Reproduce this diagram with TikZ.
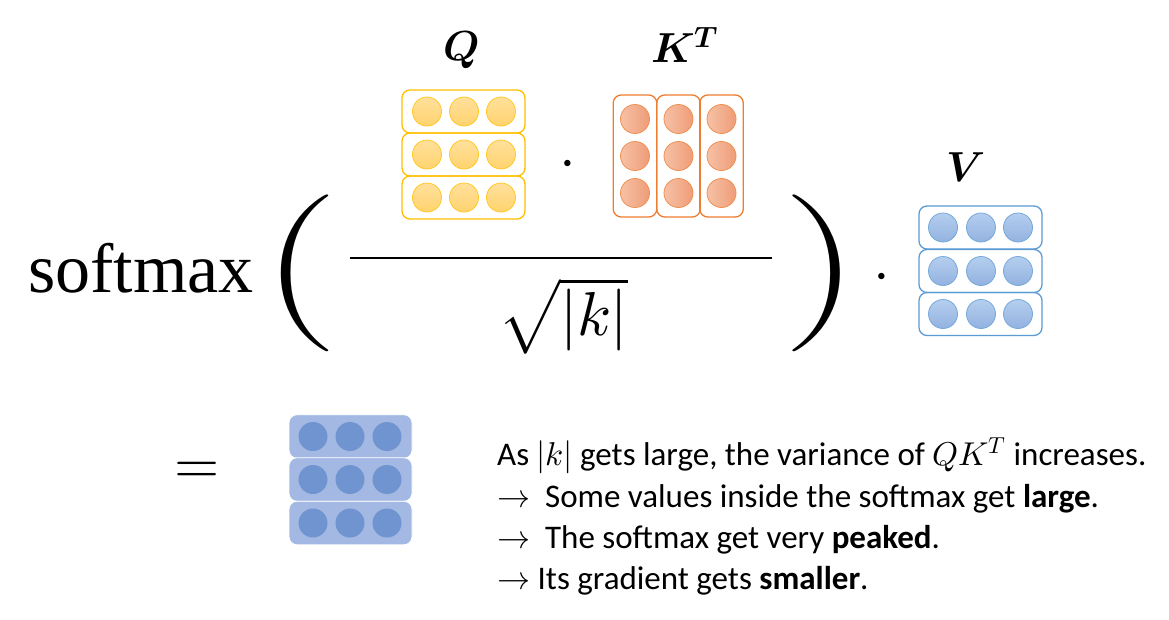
\documentclass[tikz,border=0pt]{standalone}
\usepackage{amsmath}
\usepackage{fontspec}
\usepackage{unicode-math}
\setmathfont{Latin Modern Math}
\newfontfamily\calib{Carlito}
\newfontfamily\smaxfont{Liberation Serif}
\usetikzlibrary{shadings}
\definecolor{qline}{HTML}{FFC000}
\definecolor{qtop}{HTML}{FFE09C}
\definecolor{qbot}{HTML}{FFD36E}
\definecolor{kline}{HTML}{ED7D31}
\definecolor{kleft}{HTML}{F6C1A6}
\definecolor{kright}{HTML}{EF9C78}
\definecolor{vline}{HTML}{5B9BD5}
\definecolor{vtop}{HTML}{B5CEEE}
\definecolor{vbot}{HTML}{92B2E0}
\definecolor{ofill}{HTML}{A3B9E3}
\definecolor{oball}{HTML}{7094CF}

\begin{document}
\begin{tikzpicture}[x=1pt,y=-1pt,every node/.style={inner sep=0pt},
    qrow/.style={draw=qline,line width=1.3pt,rounded corners=8pt,minimum width=123pt,minimum height=43pt},
    kcol/.style={draw=kline,line width=1.3pt,rounded corners=8pt,minimum width=43.5pt,minimum height=122pt},
    vrow/.style={draw=vline,line width=1.3pt,rounded corners=8pt,minimum width=123pt,minimum height=43pt},
    orow/.style={fill=ofill,draw=white,line width=0.8pt,rounded corners=8pt,minimum width=123pt,minimum height=43.5pt},
    qball/.style={circle,minimum size=29pt,draw=qline!85,line width=0.8pt,top color=qtop,bottom color=qbot},
    kball/.style={circle,minimum size=29pt,draw=kline!85,line width=0.8pt,left color=kleft,right color=kright},
    vball/.style={circle,minimum size=29pt,draw=vline!85,line width=0.8pt,top color=vtop,bottom color=vbot},
    oballs/.style={circle,minimum size=29pt,fill=oball},
    label/.style={font=\fontsize{42}{42}\selectfont},
    paren/.style={font=\fontsize{157}{157}\selectfont,xscale=1.4},
    expl/.style={anchor=base west,font=\calib\fontsize{33}{33}\selectfont}]
    \useasboundingbox (0,0) rectangle (1169,619);
    \fill[white] (0,0) rectangle (1169,619);

    \node[anchor=base west,font=\smaxfont\fontsize{70}{70}\selectfont] (smax) at (28,292) {softmax};
    \node[paren] (lpar) at (300,273) {(};
    \node[paren] (rpar) at (821,273) {)};

    \node[label] (qlab) at (462,50) {$\symbfit{Q}$};
    \node[label] (klab) at (685,45) {$\symbfit{K}^{\symbfit{T}}$};
    \node[label] (vlab) at (966,167) {$\symbfit{V}$};

    \foreach \r/\y in {1/111.5,2/154.5,3/197.5}{
        \node[qrow] (q\r) at (463.5,\y) {};
        \foreach \c/\x in {1/427,2/464,3/501}
            \node[qball] (q\r\c) at (\x,\y) {};
    }
    \foreach \c/\x in {1/635,2/678.5,3/721.5}{
        \node[kcol] (k\c) at (\x,156) {};
        \foreach \r/\y in {1/119,2/156,3/193}
            \node[kball] (k\r\c) at (\x,\y) {};
    }
    \foreach \r/\y in {1/227.5,2/271,3/314}{
        \node[vrow] (v\r) at (980.5,\y) {};
        \foreach \c/\x in {1/943,2/981,3/1018}
            \node[vball] (v\r\c) at (\x,\y) {};
    }
    \foreach \r/\y in {1/436.5,2/479.5,3/523}{
        \node[orow] (o\r) at (350.5,\y) {};
        \foreach \c/\x in {1/313,2/350,3/387}
            \node[oballs] (o\r\c) at (\x,\y) {};
    }

    \node[anchor=base,font=\fontsize{60}{60}\selectfont] (dota) at (568,178) {$\cdot$};
    \node[anchor=base,font=\fontsize{60}{60}\selectfont] (dotb) at (882,291) {$\cdot$};

    \coordinate (fl) at (350,258);
    \coordinate (fr) at (772,258);
    \draw[line width=2pt] (fl) -- (fr);
    \node[font=\fontsize{62}{62}\selectfont] (den) at (563,316) {$\sqrt{|k|}$};

    \node[anchor=base,font=\fontsize{58}{58}\selectfont] (eq) at (197,483) {$=$};

    \node[expl] (l1) at (497,465) {As $|k|$ gets large, the variance of $QK^T$ increases.};
    \node[expl] (l2) at (497,507) {$\rightarrow$\ \ Some values inside the softmax get \textbf{large}.};
    \node[expl] (l3) at (497,548) {$\rightarrow$\ \ The softmax get very \textbf{peaked}.};
    \node[expl] (l4) at (497,589) {$\rightarrow$ Its gradient gets \textbf{smaller}.};
\end{tikzpicture}
\end{document}
